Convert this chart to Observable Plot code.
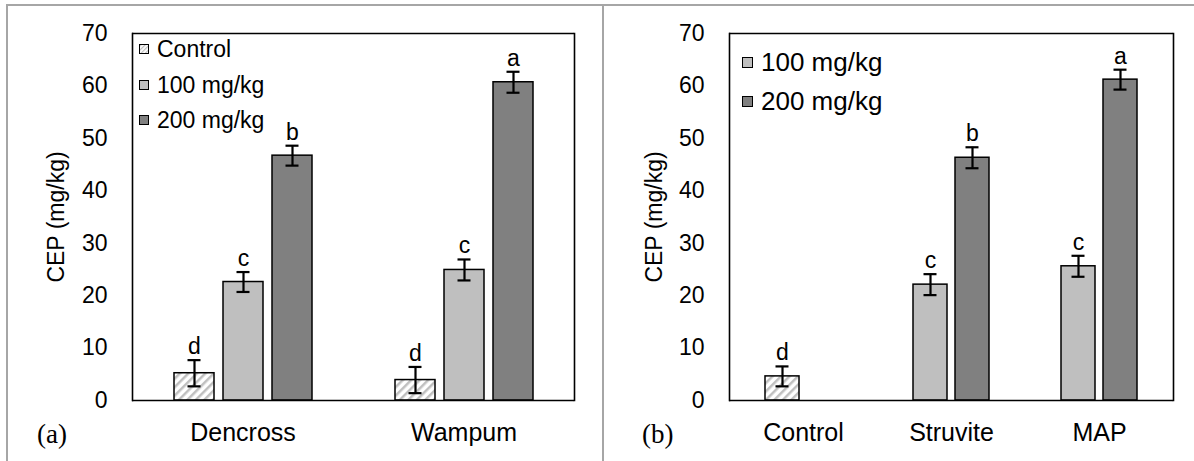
<!DOCTYPE html>
<html><head><meta charset="utf-8">
<script src="https://cdn.jsdelivr.net/npm/d3@7"></script>
<script src="https://cdn.jsdelivr.net/npm/@observablehq/plot@0.6"></script>
<style>
body{margin:0;background:#fff;}
#wrap{position:relative;width:1194px;height:461px;overflow:hidden;font-family:"Liberation Sans",Arial,sans-serif;color:#000;}
.panel{position:absolute;top:0;}
.gline{position:absolute;background:#a6a6a6;z-index:5;}
.lrow{position:absolute;display:flex;align-items:center;white-space:nowrap;line-height:1;}
.sw{border:1.3px solid #000;box-sizing:border-box;margin-right:8px;}
.tag{position:absolute;font-family:"Liberation Serif","Times New Roman",serif;line-height:1;}
</style></head>
<body>
<svg width="0" height="0" style="position:absolute">
<defs>
<pattern id="hatch" patternUnits="userSpaceOnUse" width="6" height="6" patternTransform="rotate(45)">
<rect width="6" height="6" fill="#fff"/>
<rect width="2.5" height="6" fill="#bfbfbf"/>
</pattern>
<pattern id="hatchS" patternUnits="userSpaceOnUse" width="3" height="3" patternTransform="rotate(45)">
<rect width="3" height="3" fill="#fff"/>
<rect width="1.2" height="3" fill="#bfbfbf"/>
</pattern>
</defs></svg>
<div id="wrap"></div>
<script>
// ---- data: panel (a) ----
const catsA = ["Dencross", "Wampum"];
const seriesA = ["Control", "100 mg/kg", "200 mg/kg"];
const controlA = [5.2, 3.9];
const controlErrA = [2.5, 2.5];
const controlLetA = ["d", "d"];
const rate100A = [22.6, 24.9];
const rate100ErrA = [1.9, 2.0];
const rate100LetA = ["c", "c"];
const rate200A = [46.7, 60.7];
const rate200ErrA = [1.9, 2.0];
const rate200LetA = ["b", "a"];

// ---- data: panel (b) ----
const catsB = ["Control", "Struvite", "MAP"];
const seriesB = ["100 mg/kg", "200 mg/kg"];
const rate100B = [4.6, 22.1, 25.6];
const rate100ErrB = [1.9, 2.0, 2.0];
const rate100LetB = ["d", "c", "c"];
const rate200B = [null, 46.3, 61.2];
const rate200ErrB = [null, 2.0, 1.9];
const rate200LetB = [null, "b", "a"];

const yTicks = [0, 10, 20, 30, 40, 50, 60, 70];
const yLabel = "CEP (mg/kg)";
const panelTags = ["(a)", "(b)"];

const fillDomain = ["Control", "100 mg/kg", "200 mg/kg"];
const fillRange = ["url(#hatch)", "#bfbfbf", "#808080"];

// ---- build tables ----
const rowsA = catsA.flatMap((c, i) => [
  {cat: c, series: "Control", key: "Control", v: controlA[i], e: controlErrA[i], l: controlLetA[i]},
  {cat: c, series: "100 mg/kg", key: "100 mg/kg", v: rate100A[i], e: rate100ErrA[i], l: rate100LetA[i]},
  {cat: c, series: "200 mg/kg", key: "200 mg/kg", v: rate200A[i], e: rate200ErrA[i], l: rate200LetA[i]}
]);
const rowsB = catsB.flatMap((c, i) => [
  {cat: c, series: "100 mg/kg", key: c === "Control" ? "Control" : "100 mg/kg", v: rate100B[i], e: rate100ErrB[i], l: rate100LetB[i]},
  {cat: c, series: "200 mg/kg", key: "200 mg/kg", v: rate200B[i], e: rate200ErrB[i], l: rate200LetB[i]}
]).filter(d => d.v != null);

const FONT = "'Liberation Sans', Arial, sans-serif";

function panel({rows, cats, series, width, ml, mr, pI, pO, cap, labelOff, xFont}) {
  const lo = d => d.v - d.e, hi = d => d.v + d.e;
  return Plot.plot({
    width, height: 461,
    marginLeft: ml, marginRight: mr, marginTop: 33, marginBottom: 61,
    style: {fontFamily: FONT, fontSize: "23px", color: "#000", background: "transparent", overflow: "visible"},
    fx: {domain: cats, paddingInner: 0, paddingOuter: 0, axis: null},
    x: {domain: series, paddingInner: pI, paddingOuter: pO, axis: null},
    y: {domain: [0, 70], axis: null},
    color: {domain: fillDomain, range: fillRange},
    marks: [
      Plot.barY(rows, {fx: "cat", x: "series", y: "v", fill: "key", stroke: "#000", strokeWidth: 1.5}),
      Plot.ruleX(rows, {fx: "cat", x: "series", y1: lo, y2: hi, stroke: "#000", strokeWidth: 2.2}),
      Plot.tickY(rows, {fx: "cat", x: "series", y: lo, insetLeft: cap, insetRight: cap, stroke: "#000", strokeWidth: 2.2}),
      Plot.tickY(rows, {fx: "cat", x: "series", y: hi, insetLeft: cap, insetRight: cap, stroke: "#000", strokeWidth: 2.2}),
      Plot.text(rows, {fx: "cat", x: "series", y: hi, text: "l", lineAnchor: "bottom", dy: -6, fontSize: 23}),
      Plot.ruleY([0, 70], {stroke: "#000", strokeWidth: 1.6}),
      Plot.frame({anchor: "left", facetAnchor: "left", stroke: "#000", strokeWidth: 1.6}),
      Plot.frame({anchor: "right", facetAnchor: "right", stroke: "#000", strokeWidth: 1.6}),
      Plot.axisY({ticks: yTicks, tickSize: 0, tickPadding: 25, fontSize: 23, label: yLabel, labelArrow: "none", labelAnchor: "center", labelOffset: labelOff, facetAnchor: "left"}),
      Plot.axisFx({anchor: "bottom", tickSize: 0, tickPadding: 23, fontSize: xFont, label: null})
    ]
  });
}

const wrap = document.getElementById("wrap");

const pa = panel({rows: rowsA, cats: catsA, series: seriesA, width: 603, ml: 132, mr: 29, pI: 0.19, pO: 0.85, cap: 13.5, labelOff: 85, xFont: 25});
pa.classList.add("panel"); pa.style.left = "0px";
wrap.appendChild(pa);

const pb = panel({rows: rowsB, cats: catsB, series: seriesB, width: 591, ml: 125, mr: 21, pI: 0.2, pO: 0.845, cap: 10.5, labelOff: 84, xFont: 25});
pb.classList.add("panel"); pb.style.left = "603px";
wrap.appendChild(pb);

// gray outer lines
[[7, 4, 1187, 2], [6, 4, 2, 457], [602, 4, 2, 457]].forEach(([l, t, w, h]) => {
  const d = document.createElement("div");
  d.className = "gline";
  Object.assign(d.style, {left: l + "px", top: t + "px", width: w + "px", height: h + "px"});
  wrap.appendChild(d);
});

// legends
function legend(items, left, tops, sw, fs) {
  items.forEach((name, i) => {
    const row = document.createElement("div");
    row.className = "lrow";
    Object.assign(row.style, {left: left + "px", top: (tops[i] - fs / 2) + "px", height: fs + "px", fontSize: fs + "px"});
    const s = document.createElement("span");
    s.className = "sw";
    const idx = fillDomain.indexOf(name);
    Object.assign(s.style, {width: sw + "px", height: sw + "px", background: fillRange[idx], display: "inline-block"});
    if (name === "Control") {
      s.style.background = "none";
      s.innerHTML = `<svg width="${sw-2}" height="${sw-2}" style="display:block"><rect width="100%" height="100%" fill="url(#hatchS)"/></svg>`;
    }
    row.appendChild(s);
    const t = document.createElement("span");
    t.textContent = name;
    row.appendChild(t);
    wrap.appendChild(row);
  });
}
legend(seriesA, 139, [49, 85, 120], 10, 23);
legend(seriesB, 742, [62, 101], 11, 26);

// panel tags
[[panelTags[0], 37], [panelTags[1], 642]].forEach(([txt, l]) => {
  const d = document.createElement("div");
  d.className = "tag";
  d.textContent = txt;
  Object.assign(d.style, {left: l + "px", top: "421px", fontSize: "27px"});
  wrap.appendChild(d);
});
</script>
</body></html>
